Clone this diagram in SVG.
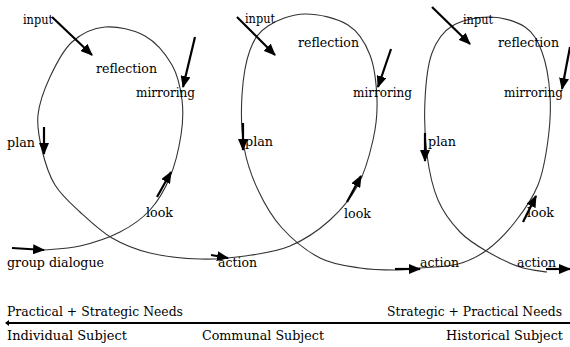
<svg xmlns="http://www.w3.org/2000/svg" width="570" height="347" viewBox="0 0 570 347">
<style>
.curve{fill:none;stroke:#333;stroke-width:1.1}
.arr{fill:none;stroke:#000;stroke-width:2.2;marker-end:url(#ah)}
.axis{fill:none;stroke:#000;stroke-width:2}
.t{font-family:"DejaVu Serif","Liberation Serif",serif;font-size:13px;fill:#000}
</style>
<defs>
<marker id="ah" markerUnits="userSpaceOnUse" markerWidth="12" markerHeight="10" viewBox="0 0 12 10" refX="11" refY="5" orient="auto">
<path d="M0,0 L12,5 L0,10 z" fill="#000"/>
</marker>
</defs>
<rect width="570" height="347" fill="#fff"/>
<g id="connectors">
<path class="curve" d="M43,250 C49.2,249.3 67.2,249 80,246 S108.3,238 120,232 S141.7,219.2 150,210 S164.8,189.5 170,177 S179,147.8 181,135 S183.5,111.7 182,100 S178.2,75.7 172,65 S156.2,42.3 145,36 S117.2,26 105,27 S81.2,33.7 72,42 S55.7,64.8 50,77 S39.3,102.8 38,115 S39.2,138.3 42,150 S48.7,174.7 55,185 S70.5,203.2 80,212 S100.3,231.2 112,238 S135.3,249.5 150,253 S184.2,258.5 200,259 S230,258.2 245,256 S275.8,252 290,246 S318.7,230.2 330,220 S350.8,198.3 358,185 S369.8,154.2 373,140 S377.5,114.2 377,100 S374.8,67.5 370,55 S358.8,31.8 348,25 S318.3,13.8 305,14 S277.2,20 268,26 S254.3,38.5 250,50 S243,78.8 242,95 S241.3,131.2 244,147 S251.7,176.5 258,190 S271.7,216.7 282,228 S307,251.3 320,258 S347.5,266 360,268 S385,270 395,270 S409.5,269 420,268 S446.8,267 458,264 S477.5,257 487,250 S506.5,232.8 515,222 S532.5,198.7 538,185 S546,155 548,140 S551,109.7 550,95 S546.2,63.3 542,52 S533.7,32.8 525,27 S502.2,17.2 490,17 S461.7,20 452,26 S436.5,40.7 432,53 S425.8,83 425,100 S424.8,138.3 427,155 S432.5,187.2 438,200 S451.7,223.3 460,232 S478,246.2 488,252 S510.2,263.7 520,267 S542.5,271.2 547,272"/>
<line class="arr" x1="12" y1="248" x2="44" y2="250"/>
<line class="arr" x1="52" y1="17" x2="92" y2="55"/>
<line class="arr" x1="195" y1="37" x2="183" y2="87"/>
<line class="arr" x1="44" y1="127" x2="44" y2="154"/>
<line class="arr" x1="157" y1="197" x2="171" y2="172"/>
<line class="arr" x1="237" y1="17" x2="275" y2="55"/>
<line class="arr" x1="391" y1="49" x2="378" y2="87"/>
<line class="arr" x1="243" y1="123" x2="243" y2="150"/>
<line class="arr" x1="347" y1="202" x2="361" y2="176"/>
<line class="arr" x1="211" y1="255" x2="228" y2="258"/>
<line class="arr" x1="432" y1="7" x2="470" y2="44"/>
<line class="arr" x1="570" y1="47" x2="562" y2="89"/>
<line class="arr" x1="425" y1="133" x2="425" y2="161"/>
<line class="arr" x1="523" y1="222" x2="536" y2="196"/>
<line class="arr" x1="395" y1="269" x2="420" y2="269"/>
<line class="arr" x1="546" y1="269" x2="570" y2="269"/>
<line class="axis" x1="6" y1="323" x2="570" y2="323"/>
<path d="M5,323 L9,320 L9,326 z" fill="#000"/>
</g>
<g id="loop1">
<g id="input1"><text class="t" x="23" y="24" textLength="30" lengthAdjust="spacingAndGlyphs">input</text></g>
<g id="reflection1"><text class="t" x="96" y="73" textLength="61" lengthAdjust="spacingAndGlyphs">reflection</text></g>
<g id="mirroring1"><text class="t" x="136" y="97" textLength="59" lengthAdjust="spacingAndGlyphs">mirroring</text></g>
<g id="plan1"><text class="t" x="7" y="147" textLength="28" lengthAdjust="spacingAndGlyphs">plan</text></g>
<g id="look1"><text class="t" x="146" y="217" textLength="27" lengthAdjust="spacingAndGlyphs">look</text></g>
<g id="group-dialogue"><text class="t" x="7" y="267" textLength="97" lengthAdjust="spacingAndGlyphs">group dialogue</text></g>
</g>
<g id="loop2">
<g id="input2"><text class="t" x="245" y="23" textLength="30" lengthAdjust="spacingAndGlyphs">input</text></g>
<g id="reflection2"><text class="t" x="298" y="47" textLength="61" lengthAdjust="spacingAndGlyphs">reflection</text></g>
<g id="mirroring2"><text class="t" x="353" y="97" textLength="59" lengthAdjust="spacingAndGlyphs">mirroring</text></g>
<g id="plan2"><text class="t" x="245" y="146" textLength="28" lengthAdjust="spacingAndGlyphs">plan</text></g>
<g id="look2"><text class="t" x="344" y="218" textLength="27" lengthAdjust="spacingAndGlyphs">look</text></g>
<g id="action2"><text class="t" x="218" y="267" textLength="39" lengthAdjust="spacingAndGlyphs">action</text></g>
</g>
<g id="loop3">
<g id="input3"><text class="t" x="463" y="24" textLength="30" lengthAdjust="spacingAndGlyphs">input</text></g>
<g id="reflection3"><text class="t" x="498" y="47" textLength="61" lengthAdjust="spacingAndGlyphs">reflection</text></g>
<g id="mirroring3"><text class="t" x="504" y="97" textLength="59" lengthAdjust="spacingAndGlyphs">mirroring</text></g>
<g id="plan3"><text class="t" x="428" y="146" textLength="28" lengthAdjust="spacingAndGlyphs">plan</text></g>
<g id="look3"><text class="t" x="527" y="217" textLength="27" lengthAdjust="spacingAndGlyphs">look</text></g>
<g id="action3a"><text class="t" x="420" y="267" textLength="39" lengthAdjust="spacingAndGlyphs">action</text></g>
<g id="action3b"><text class="t" x="517" y="267" textLength="39" lengthAdjust="spacingAndGlyphs">action</text></g>
</g>
<g id="axis-labels">
<g id="needs-left"><text class="t" x="7" y="316" textLength="176" lengthAdjust="spacingAndGlyphs">Practical + Strategic Needs</text></g>
<g id="needs-right"><text class="t" x="387" y="316" textLength="175" lengthAdjust="spacingAndGlyphs">Strategic + Practical Needs</text></g>
<g id="individual"><text class="t" x="7" y="340" textLength="120" lengthAdjust="spacingAndGlyphs">Individual Subject</text></g>
<g id="communal"><text class="t" x="202" y="340" textLength="122" lengthAdjust="spacingAndGlyphs">Communal Subject</text></g>
<g id="historical"><text class="t" x="446" y="340" textLength="117" lengthAdjust="spacingAndGlyphs">Historical Subject</text></g>
</g>
</svg>
